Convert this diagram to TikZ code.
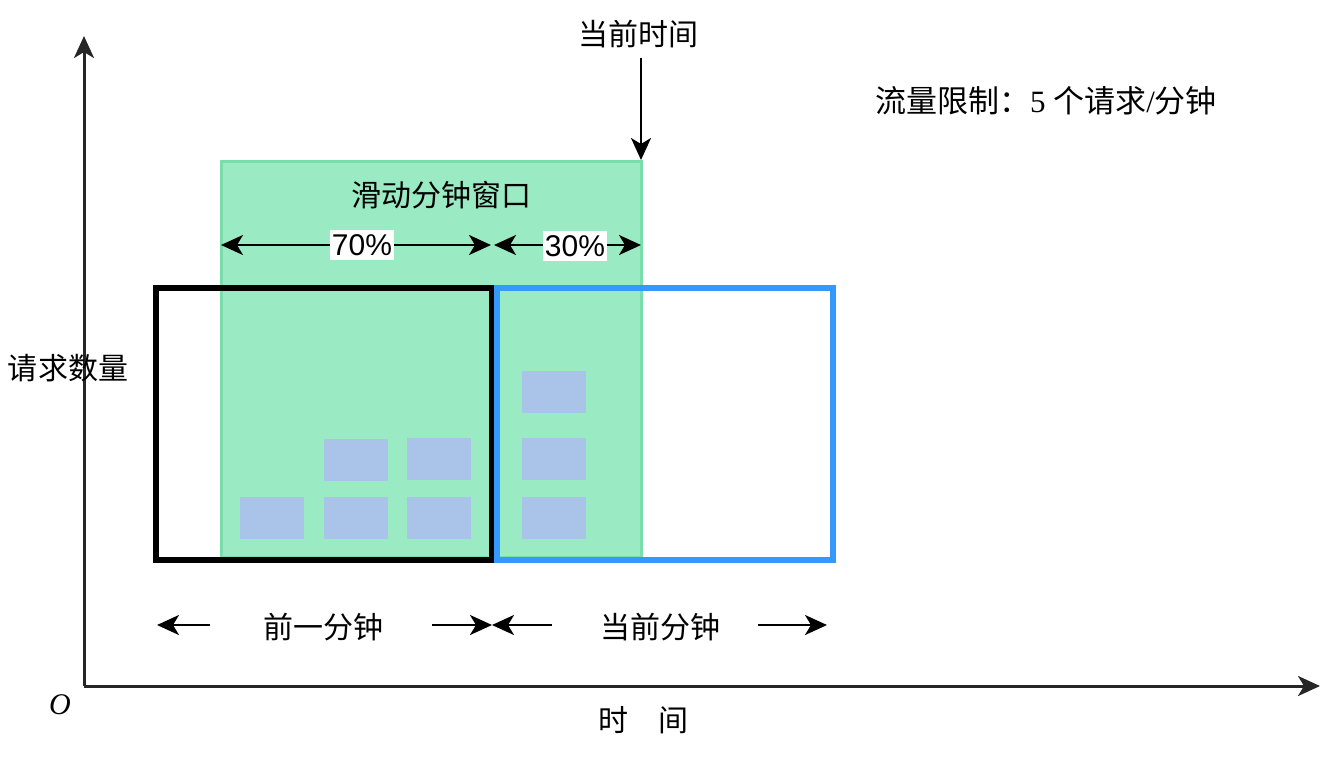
\documentclass[tikz,border=0pt]{standalone}
\usepackage{fontspec}
\setmainfont{Liberation Serif}
\newfontfamily\cjk{Noto Sans CJK SC}
\newfontfamily\arialf{Liberation Sans}
\usetikzlibrary{arrows.meta}
\definecolor{winfill}{RGB}{154,235,196}
\definecolor{winedge}{RGB}{122,222,172}
\definecolor{curblue}{RGB}{51,153,255}
\definecolor{reqbox}{RGB}{170,195,232}
\tikzset{
  cjklabel/.style={font=\cjk\fontsize{30}{34}\selectfont, inner sep=0pt},
  pctlabel/.style={font=\arialf\fontsize{30}{34}\selectfont, fill=white, inner xsep=2pt, inner ysep=4pt},
  tipbig/.tip={Stealth[length=22pt,width=20pt,inset=6pt]},
  axisline/.style={line width=3pt, draw=black!85, -tipbig},
  dimarrow/.style={line width=2.6pt, tipbig-tipbig},
  onearrow/.style={line width=2.6pt, -tipbig},
  minbox/.style={line width=5.5pt},
  req/.style={fill=reqbox, draw=none}
}
\begin{document}
\begin{tikzpicture}[x=1pt,y=-1pt]
\useasboundingbox (0,0) rectangle (1337,756);
% sliding window
\fill[winfill] (221,161) rectangle (641,557);
\draw[winedge, line width=3pt] (221,161) rectangle (641,557);
% request boxes
\foreach \x/\y in {240/497, 324/439, 324/497, 407/438, 407/497, 522/371, 522/438, 522/497}
  \fill[reqbox] (\x,\y) rectangle ++(64,42);
% minute boxes
\draw[minbox, black] (156,288) rectangle (492,560);
\draw[minbox, curblue] (497,288) rectangle (833,560);
% axes
\coordinate (O) at (84,686);
\coordinate (ytip) at (84,36);
\coordinate (xtip) at (1320,686);
\draw[axisline] (O) -- (ytip);
\draw[axisline] (O) -- (xtip);
\node[font=\itshape\fontsize{30}{34}\selectfont, inner sep=0pt] (olabel) at (60,705) {O};
\node[cjklabel] (xlabel) at (643,720) {时\hspace{1em}间};
\node[cjklabel] (ylabel) at (68,368) {请求数量};
% current time
\node[cjklabel] (now) at (638,34) {当前时间};
\coordinate (nowtop) at (641,58);
\coordinate (nowtip) at (641,160);
\draw[onearrow] (nowtop) -- (nowtip);
% limit text
\node[font=\fontsize{31}{34}\selectfont, inner sep=0pt] (limit) at (1046,101) {{\cjk 流量限制：}5 {\cjk 个请求}/{\cjk 分钟}};
% window label
\node[cjklabel] (win) at (441,195) {滑动分钟窗口};
% percent arrows
\coordinate (w1) at (221,245);
\coordinate (w2) at (491,245);
\coordinate (w3) at (494,245);
\coordinate (w4) at (641,245);
\draw[dimarrow] (w1) -- (w2);
\draw[dimarrow] (w3) -- (w4);
\node[pctlabel] (p70) at (362,245) {70\%};
\node[pctlabel] (p30) at (575,246) {30\%};
% bottom arrows
\coordinate (b1s) at (210,625);
\coordinate (b1e) at (157,625);
\coordinate (b2s) at (432,625);
\coordinate (b2e) at (492,625);
\coordinate (b3s) at (552,625);
\coordinate (b3e) at (492,625);
\coordinate (b4s) at (758,625);
\coordinate (b4e) at (827,625);
\draw[onearrow] (b1s) -- (b1e);
\draw[onearrow] (b2s) -- (b2e);
\draw[onearrow] (b3s) -- (b3e);
\draw[onearrow] (b4s) -- (b4e);
\node[cjklabel] (prev) at (323,627) {前一分钟};
\node[cjklabel] (cur) at (660,627) {当前分钟};
\end{tikzpicture}
\end{document}
